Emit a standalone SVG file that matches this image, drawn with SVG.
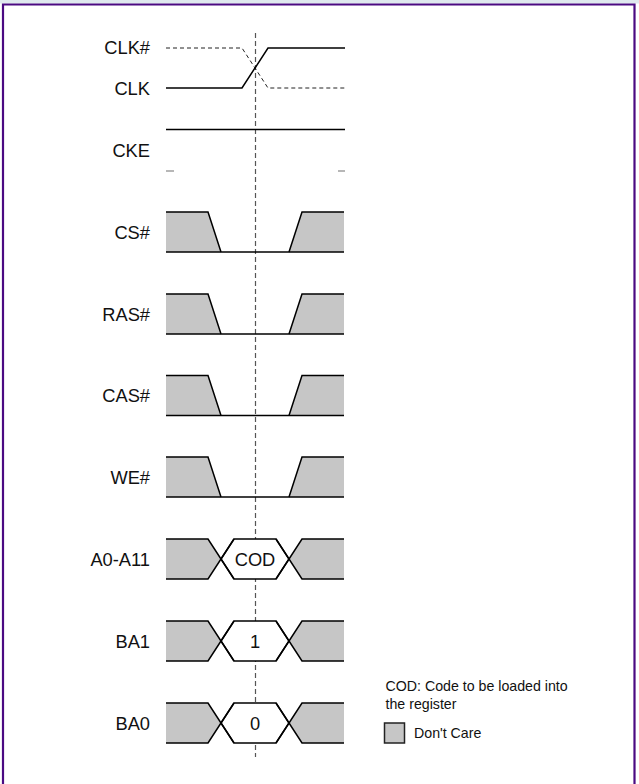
<svg xmlns="http://www.w3.org/2000/svg" width="639" height="784" viewBox="0 0 639 784">
<style>
.lbl{font-family:"Liberation Sans",Arial,sans-serif;font-size:18.3px;fill:#111;text-anchor:end}
.val{font-family:"Liberation Sans",Arial,sans-serif;font-size:18.3px;fill:#111;text-anchor:middle}
.leg{font-family:"Liberation Sans",Arial,sans-serif;font-size:14.2px;fill:#111}
.sig{fill:none;stroke:#000;stroke-width:1.5;stroke-linejoin:miter}
.dcf{fill:#c6c6c6;stroke:none}
.hex{fill:#fff;stroke:#000;stroke-width:1.5}
.dash{fill:none;stroke:#222;stroke-width:1;stroke-dasharray:4 3}
.cursor{fill:none;stroke:#555;stroke-width:1.2;stroke-dasharray:5 3}
</style>
<defs>
<g id="ctl">
<polygon class="dcf" points="166,0 208,0 221,40 166,40"/>
<polygon class="dcf" points="289,40 302,0 344,0 344,40"/>
<polyline class="sig" points="166,0 208,0 221,40"/>
<polyline class="sig" points="289,40 302,0 344,0"/>
<line class="sig" x1="166" y1="40" x2="344" y2="40"/>
</g>
<g id="bus">
<polygon class="dcf" points="166,0 208,0 221,20 208,40 166,40"/>
<polygon class="dcf" points="344,0 302,0 289,20 302,40 344,40"/>
<polygon class="hex" points="221,20 234,0 276,0 289,20 276,40 234,40"/>
<polyline class="sig" points="166,0 208,0 234,40"/>
<polyline class="sig" points="166,40 208,40 234,0"/>
<polyline class="sig" points="344,0 302,0 276,40"/>
<polyline class="sig" points="344,40 302,40 276,0"/>
</g>
</defs>
<rect x="0" y="0" width="639" height="784" fill="#fff"/>
<rect x="0" y="0" width="639" height="3.5" fill="#dfe9ee"/>
<path d="M3,784 V4.5 H634.5 V784" fill="none" stroke="#4b0a82" stroke-width="2.2"/>
<g id="connectors">
<line class="cursor" x1="255.5" y1="33" x2="255.5" y2="757"/>
</g>
<g id="clk">
<text class="lbl" x="150" y="54">CLK#</text>
<text class="lbl" x="150" y="95">CLK</text>
<polyline class="dash" points="166,48 242,48 268,88 345,88"/>
<polyline class="sig" points="166,88 242,88 268,48 345,48"/>
</g>
<g id="cke">
<text class="lbl" x="150" y="157">CKE</text>
<line class="sig" x1="166" y1="129.5" x2="345" y2="129.5"/>
<line x1="166" y1="171" x2="174" y2="171" stroke="#888" stroke-width="1.2"/>
<line x1="338" y1="171" x2="345" y2="171" stroke="#888" stroke-width="1.2"/>
</g>
<g id="cs">
<text class="lbl" x="150" y="238.5">CS#</text>
<use href="#ctl" transform="translate(0,212)"/>
</g>
<g id="ras">
<text class="lbl" x="150" y="320.5">RAS#</text>
<use href="#ctl" transform="translate(0,294)"/>
</g>
<g id="cas">
<text class="lbl" x="150" y="402">CAS#</text>
<use href="#ctl" transform="translate(0,375.5)"/>
</g>
<g id="we">
<text class="lbl" x="150" y="483.5">WE#</text>
<use href="#ctl" transform="translate(0,457)"/>
</g>
<g id="addr">
<text class="lbl" x="150" y="565.5">A0-A11</text>
<use href="#bus" transform="translate(0,539)"/>
<text class="val" x="255" y="565.5">COD</text>
</g>
<g id="ba1">
<text class="lbl" x="150" y="647.5">BA1</text>
<use href="#bus" transform="translate(0,621)"/>
<text class="val" x="255" y="647.5">1</text>
</g>
<g id="ba0">
<text class="lbl" x="150" y="729.5">BA0</text>
<use href="#bus" transform="translate(0,703)"/>
<text class="val" x="255" y="729.5">0</text>
</g>
<g id="legend">
<text class="leg" x="385.5" y="691">COD: Code to be loaded into</text>
<text class="leg" x="385.5" y="709">the register</text>
<rect x="384.5" y="723" width="20" height="20" fill="#c6c6c6" stroke="#222" stroke-width="1.5"/>
<text class="leg" x="414" y="738">Don't Care</text>
</g>
</svg>
